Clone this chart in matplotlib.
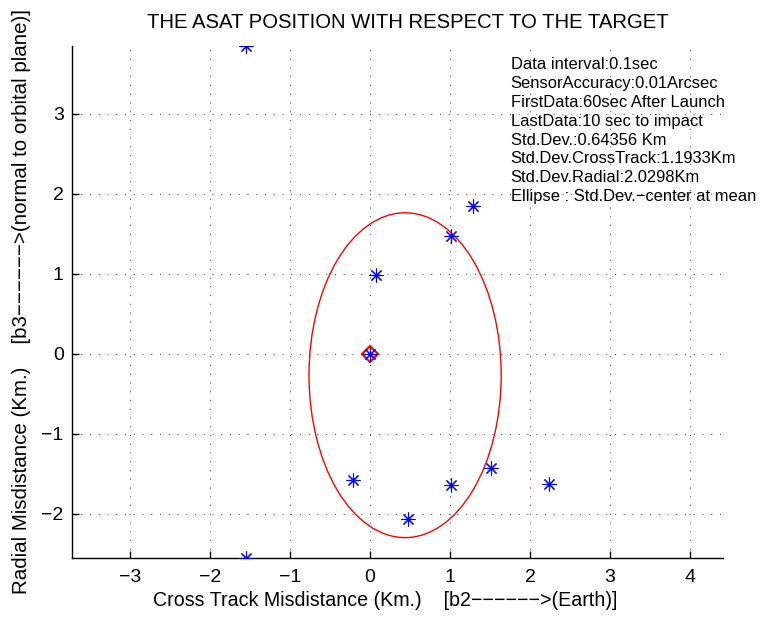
import matplotlib
matplotlib.use('Agg')
import matplotlib.pyplot as plt
from matplotlib.patches import Ellipse

plt.rcParams['font.family'] = ['Liberation Sans', 'DejaVu Sans']

# miss distances of each ASAT run (km)
cross_track = [-1.55, -1.55, 1.29, 1.01, 0.08, 0.0, -0.21, 0.48, 1.01, 1.51, 2.24]
radial = [3.85, -2.55, 1.85, 1.48, 0.99, 0.0, -1.58, -2.06, -1.64, -1.42, -1.62]

# target position
target_x = [0.0]
target_y = [0.0]

# std-dev ellipse, centred at the mean
mean_cross = 0.44
mean_radial = -0.265
std_cross = 1.20
std_radial = 2.03

xticks = [-3, -2, -1, 0, 1, 2, 3, 4]
yticks = [-2, -1, 0, 1, 2, 3]

info_lines = [
    "Data interval:0.1sec",
    "SensorAccuracy:0.01Arcsec",
    "FirstData:60sec After Launch",
    "LastData:10 sec to impact",
    "Std.Dev.:0.64356 Km",
    "Std.Dev.CrossTrack:1.1933Km",
    "Std.Dev.Radial:2.0298Km",
    "Ellipse : Std.Dev.\u2212center at mean",
]

W, H = 760, 617
fig = plt.figure(figsize=(W / 100, H / 100), dpi=100)
ax = fig.add_axes([72 / W, 59 / H, 651 / W, 512 / H])

ax.plot(target_x, target_y, 'D', markersize=8, markerfacecolor='none',
        markeredgecolor='red', markeredgewidth=1.6, zorder=3)
ax.plot(cross_track, radial, linestyle='none', marker=(8, 2, 0), markersize=10,
        color='blue', markeredgewidth=0.8, zorder=4)

ell = Ellipse((mean_cross, mean_radial), 2 * std_cross, 2 * std_radial,
              fill=False, edgecolor='red', linewidth=1.0, zorder=2)
ax.add_patch(ell)

ax.set_xlim(-3.72, 4.41)
ax.set_ylim(-2.55, 3.85)
ax.set_xticks(xticks)
ax.set_yticks(yticks)
ax.set_xticklabels([str(t).replace('-', '\u2212') for t in xticks])
ax.set_yticklabels([str(t).replace('-', '\u2212') for t in yticks])

ax.grid(True, color='0.25', linestyle=(0, (1, 8)), linewidth=0.7)
ax.set_axisbelow(True)

for side in ['top', 'right']:
    ax.spines[side].set_visible(False)
for side in ['left', 'bottom']:
    ax.spines[side].set_linewidth(1.0)

ax.tick_params(direction='in', length=5, width=1.0, labelsize=14)
ax.tick_params(axis='x', pad=8)
ax.tick_params(axis='y', pad=6)

ax.text(0.674, 0.978, "\n".join(info_lines), transform=ax.transAxes,
        ha='left', va='top', fontsize=11.9, linespacing=1.32)

fig.text(408 / W, 1 - 22 / H, "THE ASAT POSITION WITH RESPECT TO THE TARGET",
         ha='center', va='center', fontsize=14.6)
fig.text(385 / W, 1 - 601 / H,
         "Cross Track Misdistance (Km.)    [b2\u2212\u2212\u2212\u2212\u2212\u2212>(Earth)]",
         ha='center', va='center', fontsize=14.1)
fig.text(22 / W, 1 - 302 / H,
         "Radial Misdistance (Km.)    [b3\u2212\u2212\u2212\u2212\u2212\u2212>(normal to orbital plane)]",
         ha='center', va='center', rotation=90, fontsize=14.8)

fig.savefig('out.png', dpi=100)
